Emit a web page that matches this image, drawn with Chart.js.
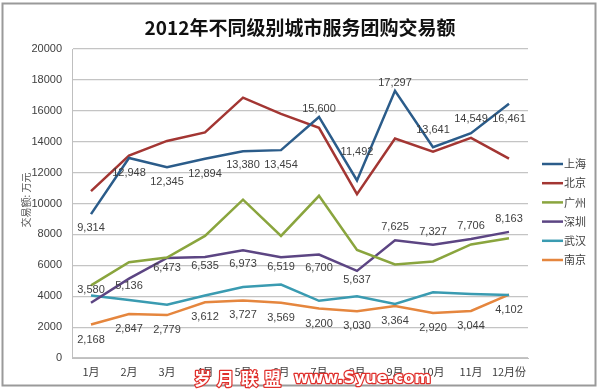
<!DOCTYPE html>
<html>
<head>
<meta charset="utf-8">
<script src="https://cdn.jsdelivr.net/npm/chart.js@4"></script>
<style>
  body { margin: 0; background: #fff; }
  #wrap { position: relative; width: 599px; height: 389px; }
</style>
</head>
<body>
<div id="wrap"><canvas id="chart" width="599" height="389"></canvas></div>
<script>
// Values (万元)
const months = ['1月', '2月', '3月', '4月', '5月', '6月', '7月', '8月', '9月', '10月', '11月', '12月份'];
const shanghai  = [9314, 12948, 12345, 12894, 13380, 13454, 15600, 11492, 17297, 13641, 14549, 16461];
const beijing   = [10800, 13100, 14050, 14600, 16850, 15800, 14900, 10600, 14200, 13350, 14250, 12900];
const guangzhou = [4700, 6200, 6500, 7900, 10250, 7900, 10500, 7000, 6050, 6250, 7350, 7750];
const shenzhen  = [3580, 5136, 6473, 6535, 6973, 6519, 6700, 5637, 7625, 7327, 7706, 8163];
const wuhan     = [4050, 3750, 3450, 4050, 4600, 4750, 3700, 4000, 3500, 4250, 4150, 4080];
const nanjing   = [2168, 2847, 2779, 3612, 3727, 3569, 3200, 3030, 3364, 2920, 3044, 4102];
const yTicks = [0, 2000, 4000, 6000, 8000, 10000, 12000, 14000, 16000, 18000, 20000];

// vertical shift (px) of each data label from its point; negative = above
const shanghaiLabelDy = [14, 15, 15, 15, 14, 15, -8, -28, -8, -17, -14, 15];
const shenzhenLabelDy = [-13, 7, 10, 9, 14, 10, 13, 9, -13, -13, -13, -13];
const nanjingLabelDy  = [15, 15, 15, 15, 15, 15, 15, 15, 15, 15, 15, 15];

const labelFont = '11px "Liberation Sans", Arial, sans-serif';
const cjk = '"Noto Sans CJK SC", sans-serif';

function line(label, data, color, dy) {
    return {
        label, data,
        borderColor: color,
        backgroundColor: color,
        borderWidth: 2.5,
        pointRadius: 0,
        tension: 0,
        labelDy: dy
    };
}

// data labels, frame, title, axis title, legend and watermark
const decor = {
    id: 'decor',
    beforeDraw(chart) {
        const ctx = chart.ctx;
        ctx.save();
        ctx.fillStyle = '#fff';
        ctx.fillRect(0, 0, chart.width, chart.height);
        ctx.strokeStyle = '#9a9a9a';
        ctx.lineWidth = 2;
        ctx.strokeRect(2.5, 3.5, 593, 382);
        ctx.restore();
    },
    afterDatasetsDraw(chart) {
        const ctx = chart.ctx;
        ctx.save();
        ctx.font = labelFont;
        ctx.fillStyle = '#404040';
        ctx.textAlign = 'center';
        ctx.textBaseline = 'middle';
        chart.data.datasets.forEach((ds, di) => {
            if (!ds.labelDy) return;
            chart.getDatasetMeta(di).data.forEach((pt, i) => {
                ctx.fillText(ds.data[i].toLocaleString('en-US'), pt.x, pt.y + ds.labelDy[i]);
            });
        });
        ctx.restore();
    },
    afterDraw(chart) {
        const ctx = chart.ctx;
        ctx.save();
        // title
        ctx.fillStyle = '#111';
        ctx.font = 'bold 19px ' + cjk;
        ctx.textAlign = 'center';
        ctx.textBaseline = 'middle';
        ctx.fillText('2012年不同级别城市服务团购交易额', 300, 28);

        // y axis title
        ctx.save();
        ctx.translate(26, 200);
        ctx.rotate(-Math.PI / 2);
        ctx.font = '10px ' + cjk;
        ctx.fillStyle = '#555';
        ctx.fillText('交易额: 万元', 0, 0);
        ctx.restore();

        // legend
        ctx.font = '11px ' + cjk;
        ctx.textAlign = 'left';
        chart.data.datasets.forEach((ds, i) => {
            const y = 164 + i * 19.2;
            ctx.strokeStyle = ds.borderColor;
            ctx.lineWidth = 2.5;
            ctx.beginPath();
            ctx.moveTo(542, y);
            ctx.lineTo(563, y);
            ctx.stroke();
            ctx.fillStyle = '#404040';
            ctx.fillText(ds.label, 564, y);
        });

        // watermark
        ctx.font = 'bold 17px ' + cjk;
        ctx.lineWidth = 2.5;
        ctx.strokeStyle = '#e0302c';
        ctx.fillStyle = '#fff';
        ctx.textAlign = 'left';
        ctx.lineJoin = 'round';
        const wm = [['岁', 194], ['月', 217], ['联', 241], ['盟', 264]];
        wm.forEach(([t, x]) => { ctx.strokeText(t, x, 379); ctx.fillText(t, x, 379); });
        ctx.font = 'bold 16px "DejaVu Sans", sans-serif';
        ctx.strokeText('www.Syue.com', 294, 379);
        ctx.fillText('www.Syue.com', 294, 379);
        ctx.restore();
    }
};

new Chart(document.getElementById('chart').getContext('2d'), {
    type: 'line',
    data: {
        labels: months,
        datasets: [
            line('上海', shanghai, '#2b5c8a', shanghaiLabelDy),
            line('北京', beijing, '#a33633'),
            line('广州', guangzhou, '#8aa53e'),
            line('深圳', shenzhen, '#5c4583', shenzhenLabelDy),
            line('武汉', wuhan, '#3a9bb1'),
            line('南京', nanjing, '#e5863e', nanjingLabelDy)
        ]
    },
    options: {
        responsive: false,
        animation: false,
        layout: { padding: { top: 49, right: 71, left: 0, bottom: 0 } },
        plugins: {
            legend: { display: false },
            title: { display: false },
            tooltip: { enabled: false }
        },
        scales: {
            x: {
                offset: true,
                grid: { display: false, drawTicks: false },
                border: { color: '#bfbfbf', width: 1 },
                ticks: { color: '#404040', font: { size: 11, family: cjk }, padding: 7, maxRotation: 0 },
                afterFit: s => { s.height = 31; }
            },
            y: {
                min: 0,
                max: 20000,
                afterBuildTicks: s => { s.ticks = yTicks.map(v => ({ value: v })); },
                grid: { color: '#c4c4c4', lineWidth: 1.2, drawTicks: false },
                border: { color: '#bfbfbf', width: 1 },
                ticks: {
                    color: '#404040',
                    font: { size: 11, family: '"Liberation Sans", Arial, sans-serif' },
                    padding: 10,
                    callback: v => String(v)
                },
                afterFit: s => { s.width = 72; }
            }
        }
    },
    plugins: [decor]
});
</script>
</body>
</html>
